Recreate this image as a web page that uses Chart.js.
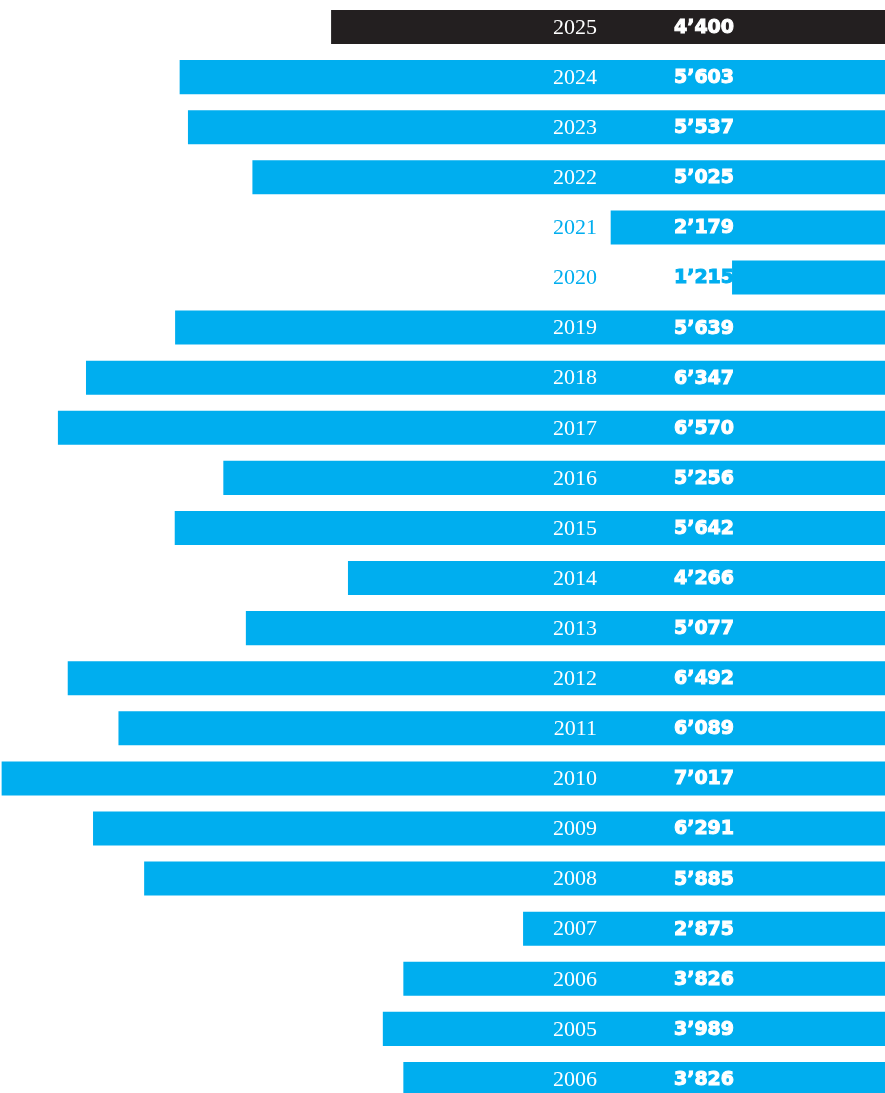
<!DOCTYPE html>
<html>
<head>
<meta charset="utf-8">
<script src="https://cdn.jsdelivr.net/npm/chart.js"></script>
<style>
  html, body { margin: 0; padding: 0; background: #fff; overflow: hidden; }
  #wrap { width: 885px; height: 1104px; position: relative; }
</style>
</head>
<body>
<div id="wrap"><canvas id="myChart"></canvas></div>
<script>
const years = ['2025', '2024', '2023', '2022', '2021', '2020', '2019', '2018', '2017', '2016', '2015',
  '2014', '2013', '2012', '2011', '2010', '2009', '2008', '2007', '2006', '2005', '2006'];
const values = [4400, 5603, 5537, 5025, 2179, 1215, 5639, 6347, 6570, 5256, 5642,
  4266, 5077, 6492, 6089, 7017, 6291, 5885, 2875, 3826, 3989, 3826];

const BLUE = '#00aeef';
const DARK = '#231f20';

const ctx = document.getElementById('myChart').getContext('2d');

function fmt(v) {
  const s = String(v);
  return s.length > 3 ? s.slice(0, s.length - 3) + '\u2019' + s.slice(-3) : s;
}

// year + value text on each row
const labelPlugin = {
  id: 'rowLabels',
  afterDatasetsDraw(chart) {
    const c = chart.ctx;
    const meta = chart.getDatasetMeta(0);
    c.save();
    c.textBaseline = 'middle';
    meta.data.forEach((bar, i) => {
      const left = Math.min(bar.x, bar.base);
      const y = bar.y + 1;
      c.font = '22px "Liberation Serif", serif';
      c.textAlign = 'right';
      c.fillStyle = left < 550 ? '#fff' : BLUE;
      c.fillText(years[i], 597, y);
      // heavy sans for the value, stroked a bit to look like a black weight
      c.font = 'bold 19px "DejaVu Sans", sans-serif';
      c.textAlign = 'center';
      const col = left < 670 ? '#fff' : BLUE;
      c.fillStyle = col;
      c.strokeStyle = col;
      c.lineWidth = 1;
      c.fillText(fmt(values[i]), 704, y);
      c.strokeText(fmt(values[i]), 704, y);
    });
    c.restore();
  }
};

new Chart(ctx, {
  type: 'bar',
  data: {
    labels: years,
    datasets: [{
      data: values,
      backgroundColor: values.map((v, i) => i === 0 ? DARK : BLUE),
      borderWidth: 0,
      barPercentage: 0.68,
      categoryPercentage: 1.0
    }]
  },
  options: {
    indexAxis: 'y',
    responsive: true,
    maintainAspectRatio: false,
    animation: false,
    layout: { padding: { top: 2, left: 0, right: 0, bottom: 0 } },
    plugins: { legend: { display: false }, tooltip: { enabled: false } },
    scales: {
      x: { reverse: true, min: 0, max: 7030, display: false },
      y: { display: false }
    }
  },
  plugins: [labelPlugin]
});
</script>
</body>
</html>
